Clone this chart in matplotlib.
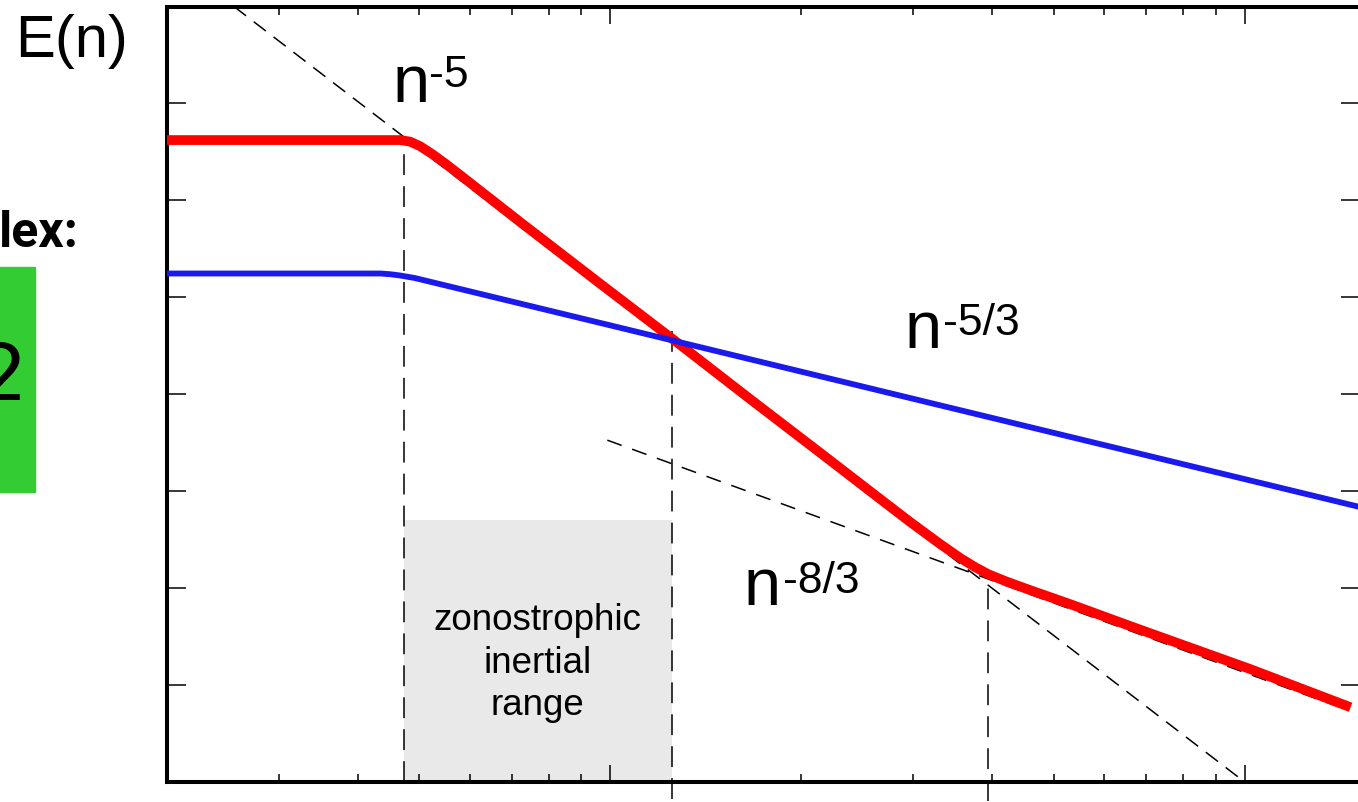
import matplotlib.pyplot as plt
from matplotlib.patches import Rectangle
from matplotlib.ticker import NullLocator

plt.rcParams['font.family'] = ['Liberation Sans', 'DejaVu Sans']
plt.rcParams['lines.scale_dashes'] = False

# zonal (red) spectrum: plateau, n^-5 range, then n^-8/3 tail
red_n = [2.0, 4.66, 4.83, 5.01, 5.24, 5.49, 5.80, 7.21, 9.64, 12.75, 16.62, 21.67,
         26.66, 29.72, 33.13, 35.63, 37.63, 39.45, 41.96, 45.95, 53.13, 66.78, 102.1, 146.9]
red_E = [4.19e-2, 4.19e-2, 4.04e-2, 3.63e-2, 3.00e-2, 2.40e-2, 1.82e-2, 5.97e-3, 1.38e-3,
         3.41e-4, 8.89e-5, 2.35e-5, 8.26e-6, 4.79e-6, 2.84e-6, 2.04e-6, 1.64e-6, 1.39e-6,
         1.18e-6, 9.51e-7, 6.82e-7, 3.95e-7, 1.46e-7, 5.90e-8]

# residual (blue) spectrum: plateau then n^-5/3
blue_n = [2.0, 4.34, 4.50, 4.66, 4.92, 8.97, 45.95, 152.3]
blue_E = [1.76e-3, 1.76e-3, 1.73e-3, 1.68e-3, 1.58e-3, 6.10e-4, 4.57e-5, 6.84e-6]

# dashed power-law guides
guide5_n = [2.55, 100.0]
guide5_E = [1.0, 1e-8]
guide83_n = [9.89, 144.3]
guide83_E = [3.36e-5, 5.62e-8]

# vertical markers at the spectral breaks
mark_n = [4.73, 12.52, 39.45]
mark_top = [4.19e-2, 5.29e-4, 1.46e-6]
mark_bottom = [1e-8, 6.6e-9, 6.3e-9]

# zonostrophic inertial range band
band_n = [4.73, 12.52]
band_top = 5.01e-6

fig = plt.figure(figsize=(13.58, 8.03), dpi=100)
ax = fig.add_axes([0.12297, 0.02491, 0.87850, 0.96575])
ax.set_xscale('log')
ax.set_yscale('log')
ax.set_xlim(2, 152)
ax.set_ylim(1e-8, 1)

ax.fill_between(band_n, 1e-8, band_top, color='#e9e9e9', lw=0, zorder=0)

for n, top, bot in zip(mark_n, mark_top, mark_bottom):
    ax.plot([n, n], [bot, top], color='black', lw=1.1, dashes=(15, 8),
            clip_on=False, zorder=1)

ax.plot(guide5_n, guide5_E, color='black', lw=1.1, dashes=(11, 7), zorder=1)
ax.plot(guide83_n, guide83_E, color='black', lw=1.1, dashes=(11, 8), zorder=1)

ax.plot(red_n, red_E, color='#ff0000', lw=7, solid_capstyle='butt', zorder=3)
ax.plot(blue_n, blue_E, color='#1a1aee', lw=4.2, solid_capstyle='butt', zorder=4)

# power-law labels
ax.text(4.53, 0.106, 'n', fontsize=48, va='baseline')
ax.text(5.17, 0.151, '-5', fontsize=32, va='baseline')
ax.text(29.08, 3.06e-4, 'n', fontsize=48, va='baseline')
ax.text(33.45, 4.17e-4, '-5/3', fontsize=32, va='baseline')
ax.text(16.20, 6.82e-7, 'n', fontsize=48, va='baseline')
ax.text(18.74, 9.08e-7, '-8/3', fontsize=32, va='baseline')

ax.text(7.67, 1.72e-7, 'zonostrophic\ninertial\nrange', fontsize=26.5,
        ha='center', va='center', linespacing=1.27)

ax.set_yticks([10.0 ** k for k in range(-7, 0)])
ax.yaxis.set_minor_locator(NullLocator())
ax.tick_params(which='both', direction='in', top=True, right=True,
               labelbottom=False, labelleft=False, width=1.1)
ax.tick_params(axis='x', which='major', length=12)
ax.tick_params(axis='x', which='minor', length=6)
ax.tick_params(axis='y', which='major', length=14)
for s in ax.spines.values():
    s.set_linewidth(2.9)

# side annotations outside the axes
fig.text(15 / 1358, 1 - 57 / 803, 'E(n)', fontsize=43, va='baseline', ha='left')
fig.text(79 / 1358, 1 - 247 / 803, 'lex:', fontsize=36, fontweight='bold',
         family=['Roboto', 'DejaVu Sans'], ha='right', va='baseline')
fig.patches.append(Rectangle((-0.01, 1 - 493 / 803), 0.01 + 35 / 1358, 225 / 803,
                             transform=fig.transFigure, color='#33cc33', zorder=0))
fig.text(-23 / 1358, 1 - 400 / 803, '2', fontsize=56, family=['DejaVu Sans'],
         ha='left', va='baseline')

fig.savefig('out.png', dpi=100)
